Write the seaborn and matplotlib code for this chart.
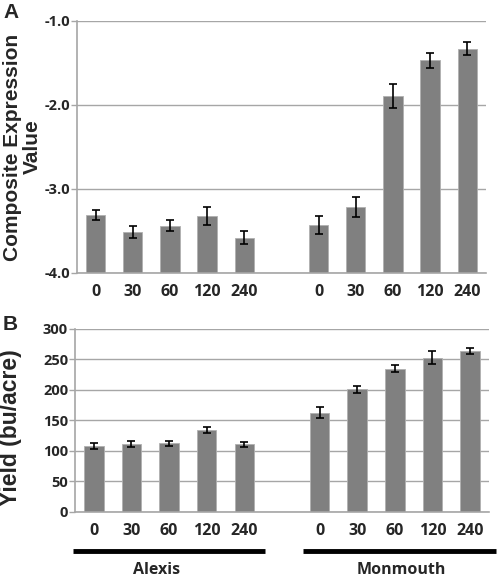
import seaborn as sns
import pandas as pd
import matplotlib.pyplot as plt
from matplotlib.lines import Line2D

DOSES = ['0', '30', '60', '120', '240']
CULTIVARS = ['Alexis', 'Monmouth']

EXPR_ALEXIS = [-3.31, -3.51, -3.44, -3.32, -3.58]
EXPR_ALEXIS_ERR = [0.06, 0.07, 0.065, 0.11, 0.08]
EXPR_MONMOUTH = [-3.43, -3.21, -1.89, -1.47, -1.33]
EXPR_MONMOUTH_ERR = [0.11, 0.12, 0.14, 0.09, 0.08]

YIELD_ALEXIS = [108, 111, 113, 135, 111]
YIELD_ALEXIS_ERR = [5, 5, 4, 5, 4]
YIELD_MONMOUTH = [163, 201, 235, 253, 264]
YIELD_MONMOUTH_ERR = [9, 6, 6, 11, 5]

A_TICKS = [-4.0, -3.0, -2.0, -1.0]
B_TICKS = [0, 50, 100, 150, 200, 250, 300]

GRAY = '#a6a6a6'
BAR = '#808080'

# categories with an empty slot between the two cultivars
cats = [f'Alexis {d}' for d in DOSES] + ['gap'] + [f'Monmouth {d}' for d in DOSES]
labels = DOSES + [''] + DOSES
data = pd.DataFrame({
    'cat': [f'Alexis {d}' for d in DOSES] + [f'Monmouth {d}' for d in DOSES],
    'expr': EXPR_ALEXIS + EXPR_MONMOUTH,
    'expr_err': EXPR_ALEXIS_ERR + EXPR_MONMOUTH_ERR,
    'yield': YIELD_ALEXIS + YIELD_MONMOUTH,
    'yield_err': YIELD_ALEXIS_ERR + YIELD_MONMOUTH_ERR,
})
data['pos'] = [cats.index(c) for c in data['cat']]

sns.set_style('white')
plt.rcParams['font.family'] = ['Liberation Sans', 'DejaVu Sans']
plt.rcParams['font.weight'] = 'bold'

fig = plt.figure(figsize=(4.98, 5.78), dpi=100)
axA = fig.add_axes([0.1546, 0.5277, 0.821, 0.436])
axB = fig.add_axes([0.1506, 0.1142, 0.831, 0.3166])


def style(ax, ticks, ticklabels, lo, hi):
    ax.set_ylim(lo, hi)
    ax.set_xlim(-0.5, len(cats) - 0.5)
    ax.set_yticks(ticks)
    ax.set_yticklabels(ticklabels, fontsize=10.5, fontweight='bold', family='Open Sans')
    ax.set_xticks(range(len(cats)))
    ax.set_xticklabels(labels, fontsize=11.5, fontweight='bold', family='Open Sans')
    ax.set_xticks([i - 0.5 for i in range(len(cats) + 1)], minor=True)
    ax.tick_params(axis='x', which='major', length=0, pad=8)
    ax.tick_params(axis='x', which='minor', length=5, color=GRAY, width=1, direction='out')
    ax.tick_params(axis='y', length=4, color=GRAY, width=1, direction='out', pad=1, left=True)
    ax.yaxis.grid(True, color=GRAY, lw=1)
    ax.set_axisbelow(True)
    for s in ['top', 'right']:
        ax.spines[s].set_visible(False)
    for s in ['left', 'bottom']:
        ax.spines[s].set_color(GRAY)
        ax.spines[s].set_linewidth(1.2)
    ax.set_xlabel('')


# Panel A: bars rise from the bottom of the axis (-4)
base = A_TICKS[0]
sns.barplot(data=data, x='cat', y='expr', order=cats, color=BAR, saturation=1,
            width=0.52, edgecolor='#b0b0b0', linewidth=0.6, errorbar=None, ax=axA)
for p in axA.patches:
    v = p.get_y() + p.get_height()
    p.set_y(base)
    p.set_height(v - base)
axA.errorbar(data['pos'], data['expr'], yerr=data['expr_err'], fmt='none',
             ecolor='black', elinewidth=1.2, capsize=3, capthick=1.2, zorder=5)
style(axA, A_TICKS, [f'{t:.1f}' for t in A_TICKS], -4.0, -1.0)
axA.set_ylabel('Composite Expression\nValue', fontsize=15, fontweight='bold',
               linespacing=1.1)
axA.yaxis.set_label_coords(-0.085, 0.50)

# Panel B
sns.barplot(data=data, x='cat', y='yield', order=cats, color=BAR, saturation=1,
            width=0.52, edgecolor='#b0b0b0', linewidth=0.6, errorbar=None, ax=axB)
axB.errorbar(data['pos'], data['yield'], yerr=data['yield_err'], fmt='none',
             ecolor='black', elinewidth=1.2, capsize=3, capthick=1.2, zorder=5)
style(axB, B_TICKS, [str(t) for t in B_TICKS], 0, 300)
axB.set_ylabel('Yield (bu/acre)', fontsize=16.5, fontweight='bold')
axB.yaxis.set_label_coords(-0.128, 0.46)

fig.text(0.006, 0.994, 'A', fontsize=15, fontweight='bold', va='top', ha='left')
fig.text(0.006, 0.455, 'B', fontsize=15, fontweight='bold', va='top', ha='left')

# cultivar group bars under panel B
for name, x0, x1, xc in [(CULTIVARS[0], 73, 265, 157), (CULTIVARS[1], 303, 496, 401)]:
    fig.add_artist(Line2D([x0 / 498, x1 / 498], [1 - 551 / 578] * 2, color='black', lw=3.5,
                          solid_capstyle='butt'))
    fig.text(xc / 498, 1 - 570 / 578, name, fontsize=11.5, fontweight='bold',
             ha='center', va='center', family='Open Sans')

fig.savefig('out.png', dpi=100)
